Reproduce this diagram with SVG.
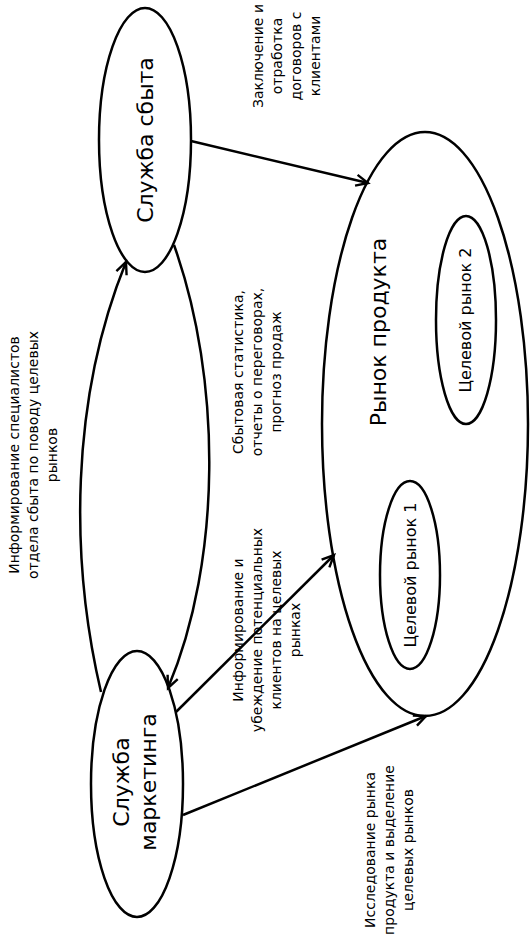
<svg xmlns="http://www.w3.org/2000/svg" width="531" height="941" viewBox="0 0 531 941">
<defs>
<marker id="arr" markerUnits="userSpaceOnUse" markerWidth="16" markerHeight="16" refX="13" refY="6" orient="auto" viewBox="0 0 16 12">
<path d="M1,0.5 L13,6 L1,11.5" fill="none" stroke="#000" stroke-width="2.4"/>
</marker>
</defs>
<style>
.n{fill:#fff;stroke:#000;stroke-width:2.5}
.c{fill:none;stroke:#000;stroke-width:2.5;marker-end:url(#arr)}
text{font-family:"DejaVu Sans","Noto Sans",sans-serif;fill:#000;text-anchor:middle}
.lb{font-size:14px}
.big{font-size:22px}
.mid{font-size:16px}
</style>
<rect width="531" height="941" fill="#fff"/>
<g id="market">
<ellipse class="n" cx="425" cy="424" rx="103" ry="292"/>
<text class="big" transform="translate(386,332) rotate(-90)">Рынок продукта</text>
</g>
<g id="target2">
<ellipse class="n" cx="466" cy="320" rx="30" ry="104"/>
<text class="mid" transform="translate(471,320) rotate(-90)">Целевой рынок 2</text>
</g>
<g id="target1">
<ellipse class="n" cx="410" cy="575" rx="30" ry="94"/>
<text class="mid" transform="translate(416,575) rotate(-90)">Целевой рынок 1</text>
</g>
<g id="sales">
<ellipse class="n" cx="145" cy="140" rx="46" ry="132"/>
<text class="big" transform="translate(153,140) rotate(-90)">Служба сбыта</text>
</g>
<g id="marketing">
<ellipse class="n" cx="137" cy="784" rx="46" ry="133"/>
<text class="big" transform="translate(129,782) rotate(-90)"><tspan x="0" y="0">Служба</tspan><tspan x="0" dy="27">маркетинга</tspan></text>
</g>
<g id="connectors">
<path class="c" d="M191,141 L368,183"/>
<path class="c" d="M176,712 L334,555"/>
<path class="c" d="M183,815 L426,716"/>
<path class="c" d="M101,692 C70,560 70,400 126,262"/>
<path class="c" d="M174,245 C222,380 222,560 168,688"/>
</g>
<g id="labels">
<text class="lb" transform="translate(263,56) rotate(-90)"><tspan x="0" y="0">Заключение и</tspan><tspan x="0" dy="19">отработка</tspan><tspan x="0" dy="19">договоров с</tspan><tspan x="0" dy="19">клиентами</tspan></text>
<text class="lb" transform="translate(19,455) rotate(-90)"><tspan x="0" y="0">Информирование специалистов</tspan><tspan x="0" dy="19">отдела сбыта по поводу целевых</tspan><tspan x="0" dy="19">рынков</tspan></text>
<text class="lb" transform="translate(243,372) rotate(-90)"><tspan x="0" y="0">Сбытовая статистика,</tspan><tspan x="0" dy="19">отчеты о переговорах,</tspan><tspan x="0" dy="19">прогноз продаж</tspan></text>
<text class="lb" transform="translate(243,630) rotate(-90)"><tspan x="0" y="0">Информирование и</tspan><tspan x="0" dy="19">убеждение потенциальных</tspan><tspan x="0" dy="19">клиентов на целевых</tspan><tspan x="0" dy="19">рынках</tspan></text>
<text class="lb" transform="translate(375,850) rotate(-90)"><tspan x="0" y="0">Исследование рынка</tspan><tspan x="0" dy="19">продукта и выделение</tspan><tspan x="0" dy="19">целевых рынков</tspan></text>
</g>
</svg>
